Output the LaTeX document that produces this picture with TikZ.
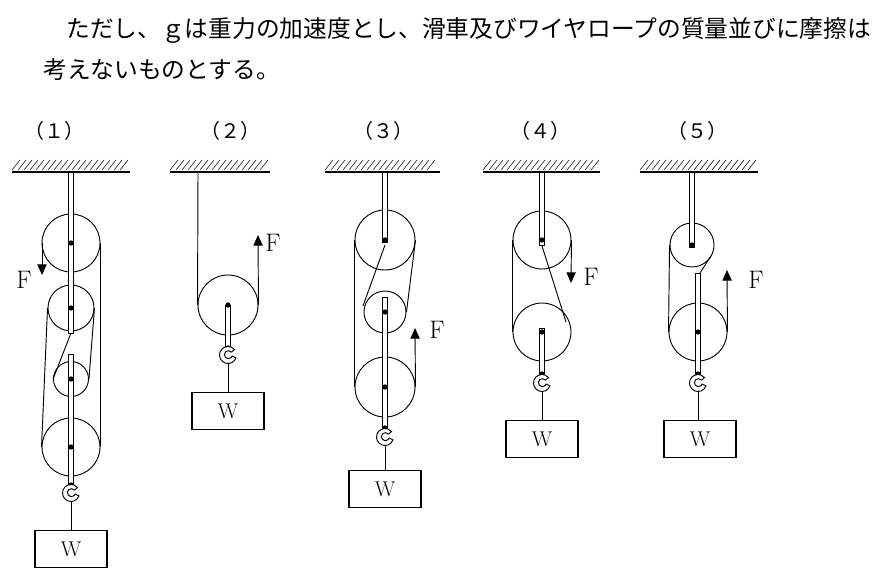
\documentclass[tikz,border=0pt]{standalone}
\usepackage{fontspec}
\newfontfamily\cjk{Noto Sans CJK JP}
\usetikzlibrary{arrows.meta}
\begin{document}
\begin{tikzpicture}[x=0.75pt,y=-0.75pt,
  pul/.style={circle,draw,line width=0.7pt,inner sep=0pt,minimum size=#1*1.5pt},
  rod/.style={draw,fill=white,line width=0.7pt},
  rope/.style={line width=0.7pt},
  box/.style={draw,line width=0.8pt,minimum width=54pt,minimum height=28pt,inner sep=0pt,font=\fontsize{16}{16}\selectfont},
  lab/.style={font=\fontsize{19}{19}\selectfont},
  num/.style={font=\cjk\fontsize{15}{15}\selectfont},
  arr/.style={-{Triangle[length=8pt,width=7pt]},line width=0.7pt},
  dot/.style={circle,fill,inner sep=0pt,minimum size=4pt}]
\useasboundingbox (0,0) rectangle (886,582);
\node[anchor=west,font=\cjk\fontsize{17.8}{17.8}\selectfont,inner sep=0] (t1) at (66,30) {ただし、ｇは重力の加速度とし、滑車及びワイヤロープの質量並びに摩擦は};
\node[anchor=west,font=\cjk\fontsize{17.8}{17.8}\selectfont,inner sep=0] (t2) at (43,70) {考えないものとする。};
\node[num] (n1) at (55,131) {（１）};
\node[num] (n2) at (230,131) {（２）};
\node[num] (n3) at (383,131) {（３）};
\node[num] (n4) at (540,131) {（４）};
\node[num] (n5) at (697,131) {（５）};
% ceilings
\foreach \a/\b in {12/130,170/270,325/440,483/600,640/758}{
  \draw[line width=0.8pt] (\a,172) -- (\b,172);
  \pgfmathtruncatemacro\bb{\b-8}
  \pgfmathtruncatemacro\aa{\a+6}
  \foreach \x in {\a,\aa,...,\bb}{\draw[line width=0.4pt] (\x,170) -- (\x+8,160);}
}
% hook macro
\newcommand\myhook[2]{\draw[line width=0.7pt,fill=white] (#1,#2)++(20:8.5) arc (20:320:8.5) -- ++(140:4) arc (320:20:4) -- cycle;}
% ---------- (1)
\node[pul=29] (a1) at (71,243) {};
\node[pul=23] (a2) at (71,308) {};
\node[pul=17.5] (a3) at (71,379) {};
\node[pul=29] (a4) at (71,447) {};
\coordinate (a1l) at (42,243);\coordinate (a1f) at (42,275);
\draw[rope,arr] (a1l) -- (a1f);
\node[lab] (f1) at (24,280) {F};
\draw[rope] (a1.east) -- (a4.east);
\draw[rope] (a2.west) -- (a4.west);
\draw[rope] (a2.east) -- (a3.east);
\coordinate (r1b) at (71,333);
\draw[rope] (a3.west) -- (r1b);
\draw[rod] (68.5,172) rectangle (73.5,333);
\draw[rod] (68.5,354) rectangle (73.5,487);
\foreach \y in {243,308,379,447,485}{\node[dot] at (71,\y){};}
\myhook{71}{493}
\node[box] (w1) at (71,549) {W};
\draw[rope] (71,501) -- (w1.north);
% ---------- (2)
\node[pul=30] (b1) at (228,305) {};
\draw[rope] (198,172) -- (b1.west);
\draw[rope,arr] (b1.east) -- (258,235);
\node[lab] (f2) at (273,243) {F};
\draw[rod] (225.5,305) rectangle (230.5,350);
\node[dot] at (228,305){};\node[dot] at (228,348){};
\myhook{228}{355}
\node[box] (w2) at (228,411) {W};
\draw[rope] (228,363) -- (w2.north);
% ---------- (3)
\node[pul=30] (c1) at (385,240) {};
\node[pul=21] (c2) at (385,312) {};
\node[pul=30] (c3) at (385,387) {};
\draw[rope] (c1.west) -- (c3.west);
\draw[rope] (c1.east) -- (c2.east);
\coordinate (c1c) at (385,245);
\draw[rope] (c1c) -- (363,306);
\draw[rope,arr] (c3.east) -- (415,328);
\node[lab] (f3) at (437,330) {F};
\draw[rod] (382.5,172) rectangle (387.5,242);
\draw[rod] (382.5,297) rectangle (387.5,430);
\foreach \y in {240,312,387,428}{\node[dot] at (385,\y){};}
\myhook{385}{437}
\node[box] (w3) at (385,489) {W};
\draw[rope] (385,445) -- (w3.north);
% ---------- (4)
\node[pul=29] (d1) at (542,240) {};
\node[pul=29] (d2) at (542,332) {};
\draw[rope] (d1.west) -- (d2.west);
\draw[rope,arr] (d1.east) -- (571,283);
\node[lab] (f4) at (591,277) {F};
\draw[rope] (542,246) -- (566,322);
\draw[rod] (539.5,172) rectangle (544.5,245);
\draw[rod] (539.5,328) rectangle (544.5,377);
\foreach \y in {240,332,374}{\node[dot] at (542,\y){};}
\myhook{542}{383}
\node[box] (w4) at (542,439) {W};
\draw[rope] (542,391) -- (w4.north);
% ---------- (5)
\node[pul=22] (e1) at (692,245) {};
\node[pul=29] (e2) at (698,332) {};
\draw[rope] (e1.west) -- (e2.west);
\draw[rope] (711,256) -- (700,273);
\draw[rope,arr] (e2.east) -- (727,270);
\node[lab] (f5) at (756,280) {F};
\draw[rod] (689.5,172) rectangle (694.5,247);
\draw[rod] (695.5,273) rectangle (700.5,377);
\node[dot] at (692,245){};\node[dot] at (698,332){};\node[dot] at (698,374){};
\myhook{698}{383}
\node[box] (w5) at (700,439) {W};
\draw[rope] (698,391) -- (698,420);
\end{tikzpicture}
\end{document}
